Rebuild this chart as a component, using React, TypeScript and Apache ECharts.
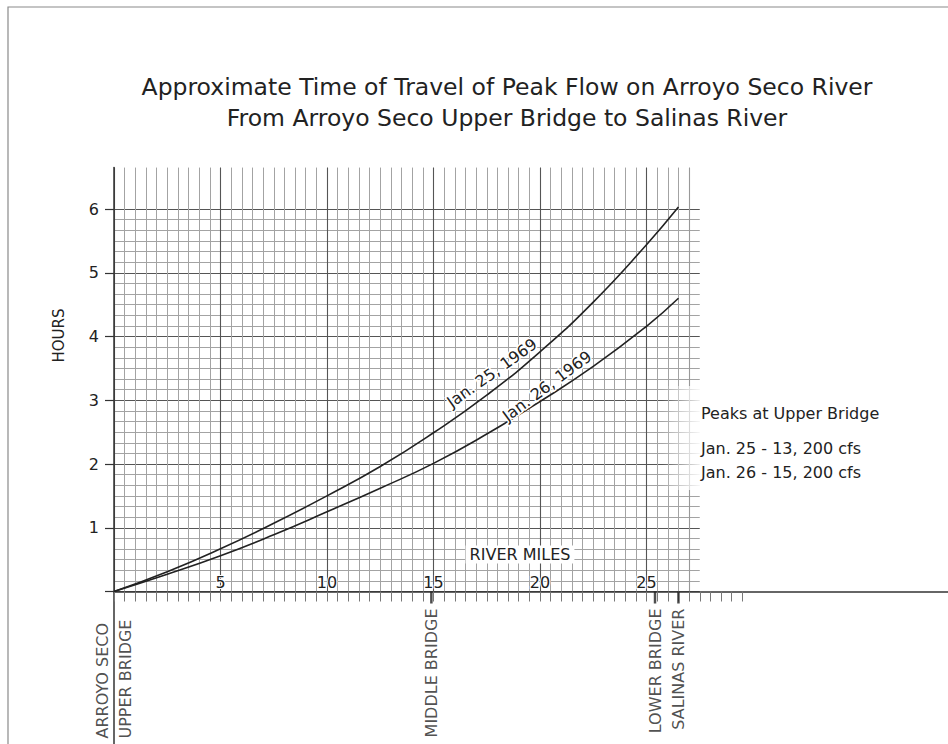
import React, { useEffect, useRef } from "react";
import * as echarts from "echarts";

// ---- data ----
const miles = [0, 2.5, 5, 7.5, 10, 12.5, 15, 17.5, 20, 22.5, 25, 26.5];
const jan25Hours = [0, 0.31, 0.67, 1.07, 1.5, 1.96, 2.49, 3.08, 3.76, 4.54, 5.44, 6.03];
const jan26Hours = [0, 0.27, 0.56, 0.89, 1.25, 1.62, 2.01, 2.47, 2.98, 3.53, 4.16, 4.6];
const curveNames = ["Jan. 25, 1969", "Jan. 26, 1969"];
const landmarkNames = ["ARROYO SECO\nUPPER BRIDGE", "MIDDLE BRIDGE", "LOWER BRIDGE", "SALINAS RIVER"];
const landmarkMiles = [0, 14.9, 25.4, 26.5];
const titleLines = [
  "Approximate Time of Travel of Peak Flow on Arroyo Seco River",
  "From Arroyo Seco Upper Bridge to Salinas River",
];
const peakNotes = ["Peaks at Upper Bridge", "Jan. 25 - 13, 200 cfs", "Jan. 26 - 15, 200 cfs"];
const yAxisName = "HOURS";
const xAxisName = "RIVER MILES";

// ---- layout ----
const W = 948;
const HGT = 744;
const X0 = 114;
const Y0 = 591.5;
const PX_MILE = 21.3;
const PX_HOUR = 63.75;
const FONT = "DejaVu Sans, Verdana, sans-serif";
const INK = "#222";

export default function App() {
  const ref = useRef<HTMLDivElement>(null);

  useEffect(() => {
    if (!ref.current) return;
    const chart = echarts.init(ref.current, undefined, { renderer: "svg" });

    const topV = Y0 - 6.65 * PX_HOUR;
    const baseMin = -(HGT - Y0) / PX_HOUR;

    const gridBase = { containLabel: false, outerBoundsMode: "none" };

    const option: any = {
      animation: false,
      backgroundColor: "#fff",
      title: {
        text: titleLines.join("\n"),
        left: 502,
        textAlign: "center",
        top: 66,
        textStyle: {
          fontFamily: FONT,
          fontSize: 23.5,
          fontWeight: "normal",
          lineHeight: 31,
          color: INK,
        },
      },
      grid: [
        { ...gridBase, left: X0, top: Y0 - 6 * PX_HOUR, width: 27.5 * PX_MILE, height: 6 * PX_HOUR },
        { ...gridBase, left: X0, top: topV, width: 27 * PX_MILE, height: 6.65 * PX_HOUR },
        { ...gridBase, left: X0, top: Y0 - PX_HOUR, width: 29.5 * PX_MILE, height: PX_HOUR },
        { ...gridBase, left: X0, top: topV, width: W - X0, height: HGT - topV },
      ],
      xAxis: [
        { gridIndex: 0, type: "value", min: 0, max: 27.5, show: false },
        {
          gridIndex: 1,
          type: "value",
          min: 0,
          max: 27,
          interval: 5,
          position: "bottom",
          axisLine: { show: false },
          axisTick: { show: false },
          axisLabel: {
            inside: true,
            margin: 1,
            fontFamily: FONT,
            fontSize: 16,
            color: INK,
            textBorderColor: "#fff",
            textBorderWidth: 2,
            formatter: (v: number) => (v > 0 && v % 5 === 0 ? String(v) : ""),
          },
          splitLine: {
            show: true,
            lineStyle: { color: ["#555", "#555", "#555", "#555", "#555", "#555", "#999"], width: 1.1 },
          },
          minorTick: { show: false, splitNumber: 10 },
          minorSplitLine: { show: true, lineStyle: { color: "#a3a3a3", width: 1 } },
        },
        {
          gridIndex: 2,
          type: "value",
          min: 0,
          max: 29.5,
          interval: 0.5,
          position: "bottom",
          axisLine: { show: false },
          axisTick: { show: true, length: 10, lineStyle: { color: "#777", width: 1 } },
          axisLabel: { show: false },
          splitLine: { show: false },
        },
        {
          gridIndex: 3,
          type: "value",
          min: 0,
          max: (W - X0) / PX_MILE,
          axisLine: { show: true, onZero: true, lineStyle: { color: "#333", width: 1.5 } },
          axisTick: { show: false },
          axisLabel: { show: false },
          splitLine: { show: false },
        },
      ],
      yAxis: [
        {
          gridIndex: 0,
          type: "value",
          min: 0,
          max: 6,
          interval: 1,
          axisLine: { show: false },
          axisTick: { show: true, length: 9, lineStyle: { color: "#333", width: 1.2 } },
          axisLabel: {
            margin: 15,
            fontFamily: FONT,
            fontSize: 16,
            color: INK,
            formatter: (v: number) => (v === 0 ? "" : String(v)),
          },
          splitLine: { show: true, lineStyle: { color: "#555", width: 1.1 } },
          minorTick: { show: false, splitNumber: 6 },
          minorSplitLine: { show: true, lineStyle: { color: "#a3a3a3", width: 1 } },
        },
        { gridIndex: 1, type: "value", min: 0, max: 6.65, show: false },
        { gridIndex: 2, type: "value", min: 0, max: 1, show: false },
        {
          gridIndex: 3,
          type: "value",
          min: baseMin,
          max: 6.65,
          axisLine: { show: true, onZero: false, lineStyle: { color: "#333", width: 1.5 } },
          axisTick: { show: false },
          axisLabel: { show: false },
          splitLine: { show: false },
        },
      ],
      series: [
        {
          name: curveNames[0],
          type: "line",
          xAxisIndex: 1,
          yAxisIndex: 1,
          smooth: true,
          showSymbol: false,
          silent: true,
          lineStyle: { color: INK, width: 1.6 },
          data: miles.map((m, i) => [m, jan25Hours[i]]),
        },
        {
          name: curveNames[1],
          type: "line",
          xAxisIndex: 1,
          yAxisIndex: 1,
          smooth: true,
          showSymbol: false,
          silent: true,
          lineStyle: { color: INK, width: 1.6 },
          data: miles.map((m, i) => [m, jan26Hours[i]]),
        },
        {
          name: "landmarks",
          type: "scatter",
          xAxisIndex: 3,
          yAxisIndex: 3,
          silent: true,
          symbol: "rect",
          symbolSize: [2.5, 12],
          symbolOffset: [0, 6],
          itemStyle: { color: INK },
          label: {
            show: true,
            formatter: "{b}",
            rotate: 90,
            position: "bottom",
            distance: 5,
            align: "right",
            verticalAlign: "middle",
            fontFamily: FONT,
            fontSize: 16,
            lineHeight: 23,
            color: INK,
          },
          data: landmarkMiles.map((m, i) =>
            i === 0
              ? {
                  name: landmarkNames[i],
                  value: [m, 0],
                  itemStyle: { color: "transparent" },
                  label: { align: "left", distance: 135 },
                }
              : { name: landmarkNames[i], value: [m, 0] }
          ),
        },
      ],
      graphic: [
        {
          type: "rect",
          silent: true,
          z: 100,
          shape: { x: 8, y: 7, width: 960, height: 760 },
          style: { fill: "none", stroke: "#8a8a8a", lineWidth: 1.2 },
        },
        {
          type: "rect",
          silent: true,
          z: 100,
          shape: { x: 662, y: 386, width: 42, height: 104 },
          style: {
            fill: new echarts.graphic.LinearGradient(0, 0, 1, 0, [
              { offset: 0, color: "rgba(255,255,255,0)" },
              { offset: 1, color: "rgba(255,255,255,1)" },
            ]),
          },
        },
        {
          type: "text",
          silent: true,
          z: 101,
          x: 59,
          y: 335.5,
          rotation: Math.PI / 2,
          style: { text: yAxisName, font: `15px ${FONT}`, fill: INK, align: "center", verticalAlign: "middle" },
        },
        {
          type: "text",
          silent: true,
          z: 101,
          x: 520,
          y: 554.5,
          style: {
            text: xAxisName,
            font: `16px ${FONT}`,
            fill: INK,
            align: "center",
            verticalAlign: "middle",
            backgroundColor: "#fff",
            padding: [1, 4],
          },
        },
        ...peakNotes.map((t, i) => ({
          type: "text",
          silent: true,
          z: 101,
          x: 701,
          y: [413, 448, 472][i],
          style: { text: t, font: `16px ${FONT}`, fill: INK, align: "left", verticalAlign: "middle" },
        })),
        {
          type: "text",
          silent: true,
          z: 101,
          x: 492,
          y: 373,
          rotation: (35.5 * Math.PI) / 180,
          style: {
            text: curveNames[0],
            font: `16px ${FONT}`,
            fill: INK,
            align: "center",
            verticalAlign: "middle",
            stroke: "#fff",
            lineWidth: 3,
          },
        },
        {
          type: "text",
          silent: true,
          z: 101,
          x: 547,
          y: 386,
          rotation: (36.5 * Math.PI) / 180,
          style: {
            text: curveNames[1],
            font: `16px ${FONT}`,
            fill: INK,
            align: "center",
            verticalAlign: "middle",
            stroke: "#fff",
            lineWidth: 3,
          },
        },
      ],
    };

    chart.setOption(option);
    return () => chart.dispose();
  }, []);

  return (
    <div
      ref={ref}
      style={{ position: "absolute", left: 0, top: 0, width: W, height: HGT, background: "#fff" }}
    />
  );
}
